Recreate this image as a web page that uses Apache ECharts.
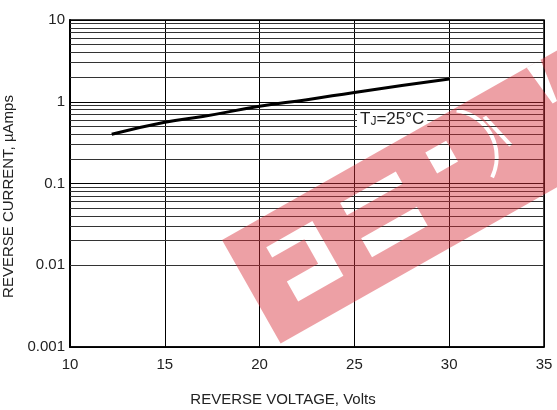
<!DOCTYPE html>
<html>
<head>
<meta charset="utf-8">
<script src="https://cdn.jsdelivr.net/npm/echarts@6/dist/echarts.min.js"></script>
<style>
  html, body { margin: 0; padding: 0; background: #fff; }
  #chart { width: 557px; height: 410px; }
</style>
</head>
<body>
<div id="chart"></div>
<script>
// reverse voltage (V) vs reverse current (uA)
var voltage = [12.2, 15, 17, 20, 22.5, 25, 27.5, 30];
var current = [0.40, 0.56, 0.66, 0.88, 1.06, 1.30, 1.58, 1.90];

var xTicks = [10, 15, 20, 25, 30, 35];
var yTicks = [0.001, 0.01, 0.1, 1, 10];
var yTickLabels = ["0.001", "0.01", "0.1", "1", "10"];

// minor log grid lines (2..9 of each decade)
var minorLines = [];
[0.001, 0.01, 0.1, 1].forEach(function (d) {
  for (var k = 2; k <= 9; k++) minorLines.push(+(d * k).toPrecision(3));
});

// watermark logo: a tilted band with letter cut-outs (local coords)
var logoPath = [
  "M0 0 L400 0 L400 119 L0 119 Z",
  "M35 28 L35 40 L72 40 L72 68 L36 68 L36 91 L88 91 L88 28 Z",
  "M121 26 L121 40 L185 40 L185 26 Z",
  "M122 67 L122 89 L186 89 L186 67 Z",
  "M220 24 L220 48 L244 48 L244 24 Z",
  "M267.1 80.1 A49 49 0 0 0 269.2 1.4 L266.7 4.5 A45 45 0 0 1 264.8 76.9 Z",
  "M287 22 L296 60 L300 60 L291 22 Z",
  "M350 0 L355 44 L360 44 L366 0 Z"
].join(" ");

var chart = echarts.init(document.getElementById("chart"));
var font = "Liberation Sans, Arial, sans-serif";

var option = {
  animation: false,
  backgroundColor: "#fff",
  grid: {
    left: 70, right: 13, top: 20, bottom: 63,
    outerBoundsMode: "none",
    show: true, borderColor: "#000", borderWidth: 1.5
  },
  xAxis: {
    type: "value",
    min: 10, max: 35, interval: 5,
    name: "REVERSE VOLTAGE, Volts",
    nameLocation: "middle",
    nameGap: 45,
    nameTextStyle: { color: "#222", fontSize: 15, fontFamily: font, padding: [0, 48, 0, 0] },
    axisLine: { show: true, lineStyle: { color: "#000", width: 1.5 } },
    axisTick: { show: false },
    axisLabel: { color: "#222", fontSize: 15, fontFamily: font, margin: 10 },
    splitLine: { show: true, lineStyle: { color: "#000", width: 1 } }
  },
  yAxis: {
    type: "log",
    logBase: 10,
    min: 0.001, max: 10,
    name: "REVERSE CURRENT, \u00b5Amps",
    nameLocation: "middle",
    nameGap: 45,
    nameTextStyle: { color: "#222", fontSize: 15, fontFamily: font, padding: [0, 26, 0, 0] },
    axisLine: { show: true, lineStyle: { color: "#000", width: 2 } },
    axisTick: { show: false },
    axisLabel: {
      color: "#222", fontSize: 15, fontFamily: font, margin: 5,
      formatter: function (v) {
        for (var i = 0; i < yTicks.length; i++) {
          if (Math.abs(Math.log10(v) - Math.log10(yTicks[i])) < 1e-6) return yTickLabels[i];
        }
        return "";
      }
    },
    splitLine: { show: true, lineStyle: { color: "#000", width: 1 } }
  },
  series: [
    {
      type: "line",
      data: voltage.map(function (v, i) { return [v, current[i]]; }),
      smooth: true,
      showSymbol: false,
      lineStyle: { color: "#000", width: 3 },
      z: 5,
      markLine: {
        silent: true,
        symbol: "none",
        label: { show: false },
        lineStyle: { color: "#333", width: 1, type: "solid" },
        data: minorLines.map(function (y) { return { yAxis: y }; })
      }
    },
    {
      // watermark
      type: "custom",
      coordinateSystem: "none",
      silent: true,
      z: 30,
      data: [0],
      renderItem: function () {
        return {
          type: "path",
          x: 222, y: 240,
          rotation: 0.515,
          shape: { pathData: logoPath },
          style: { fill: "rgba(215, 45, 55, 0.45)", stroke: null }
        };
      }
    }
  ],
  graphic: [
    {
      type: "text",
      left: 357, top: 110,
      z: 20,
      style: {
        text: "{t|T}{j|J}{t|=25\u00b0C}",
        backgroundColor: "#fff",
        padding: [1, 3, 1, 3],
        rich: {
          t: { fontSize: 17, fontFamily: font, fill: "#222", verticalAlign: "bottom" },
          j: { fontSize: 12, fontFamily: font, fill: "#222", verticalAlign: "bottom" }
        }
      }
    }
  ]
};

chart.setOption(option);
</script>
</body>
</html>
